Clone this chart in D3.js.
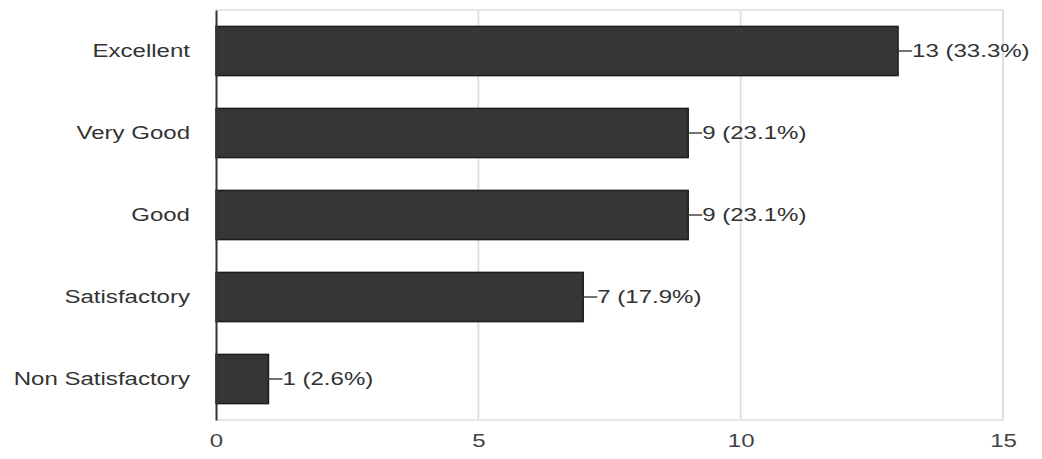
<!DOCTYPE html>
<html><head><meta charset="utf-8">
<script src="https://cdn.jsdelivr.net/npm/d3@7"></script>
<style>body{margin:0;background:#fff;}svg{display:block;font-family:"Liberation Sans",Arial,sans-serif;}</style>
</head><body>
<script>
const categories = ["Excellent","Very Good","Good","Satisfactory","Non Satisfactory"];
const counts = [13, 9, 9, 7, 1];
const percents = ["33.3%","23.1%","23.1%","17.9%","2.6%"];
const xTicks = [0, 5, 10, 15];

const W = 1042, H = 459;
const SX = 1.3, FS = 18.5;
const m = {top: 10, right: 39, bottom: 39, left: 216};
const svg = d3.select("body").append("svg").attr("width", W).attr("height", H);
const x = d3.scaleLinear().domain([0, 15]).range([m.left, W - m.right]);
const y = d3.scaleBand().domain(categories).range([m.top, H - m.bottom]).paddingInner(0.4).paddingOuter(0.2);

// grid
svg.append("g").selectAll("line").data(xTicks.filter(d => d > 0)).join("line")
  .attr("x1", d => x(d)).attr("x2", d => x(d)).attr("y1", m.top).attr("y2", H - m.bottom)
  .attr("stroke", "#e0e0e0").attr("stroke-width", 2);
svg.append("line").attr("x1", m.left).attr("x2", x(15)).attr("y1", m.top).attr("y2", m.top).attr("stroke", "#e6e6e6").attr("stroke-width", 2);
svg.append("line").attr("x1", m.left).attr("x2", x(15)).attr("y1", H - m.bottom).attr("y2", H - m.bottom).attr("stroke", "#e6e6e6").attr("stroke-width", 2);

// bars
svg.append("g").selectAll("rect").data(categories).join("rect")
  .attr("x", x(0)).attr("y", d => y(d))
  .attr("width", (d, i) => x(counts[i]) - x(0)).attr("height", y.bandwidth())
  .attr("fill", "#363636").attr("stroke", "#1e1e1e").attr("stroke-width", 1.5);

// leader lines and labels
const lab = svg.append("g").selectAll("g").data(categories).join("g");
lab.append("line")
  .attr("x1", (d, i) => x(counts[i])).attr("x2", (d, i) => x(counts[i]) + 14)
  .attr("y1", d => y(d) + y.bandwidth() / 2).attr("y2", d => y(d) + y.bandwidth() / 2)
  .attr("stroke", "#444").attr("stroke-width", 1.5);
lab.append("text")
  .attr("transform", (d, i) => `translate(${x(counts[i]) + 14},${y(d) + y.bandwidth() / 2}) scale(${SX},1)`)
  .attr("dy", "0.35em").attr("font-size", FS).attr("fill", "#333")
  .text((d, i) => `${counts[i]} (${percents[i]})`);

// y axis
const ya = svg.append("g").attr("transform", `translate(${m.left},0)`)
  .call(d3.axisLeft(y).tickSize(0).tickPadding(26));
ya.select(".domain").attr("stroke", "#333").attr("stroke-width", 2);
ya.selectAll("text").attr("font-size", FS).attr("fill", "#333")
  .attr("font-family", '"Liberation Sans",Arial,sans-serif')
  .attr("x", null).attr("transform", `translate(-26,0) scale(${SX},1)`);

// x axis
const xa = svg.append("g").attr("transform", `translate(0,${H - m.bottom})`)
  .call(d3.axisBottom(x).tickValues(xTicks).tickSize(0).tickPadding(14));
xa.select(".domain").remove();
xa.selectAll("text").attr("font-size", FS).attr("fill", "#444")
  .attr("font-family", '"Liberation Sans",Arial,sans-serif')
  .attr("transform", `scale(${SX},1)`);
</script>
</body></html>
